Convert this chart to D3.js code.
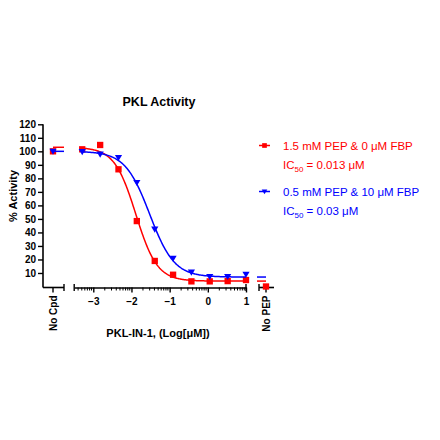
<!DOCTYPE html>
<html>
<head>
<meta charset="utf-8">
<script src="https://cdn.jsdelivr.net/npm/d3@7"></script>
<style>
  body { margin: 0; background: #fff; }
  svg { font-family: 'Liberation Sans', Arial, sans-serif; }
</style>
</head>
<body>
<div id="chart"></div>
<script>
// ── PKL Activity — dose response, two conditions ─────────────

// log10 concentration (µM), 3-fold dilution from 10 µM
const logConc = [-3.29, -2.82, -2.34, -1.86, -1.39, -0.91, -0.43, 0.05, 0.52, 1.0];

const redValues  = [101.5, 104.7, 86.7, 48.4, 18.9, 8.7, 3.8, 3.8, 4.0, 4.8];
const blueValues = [99.7, 97.8, 95.3, 76.8, 42.3, 20.8, 10.5, 7.3, 7.3, 9.0];

// controls
const noCpd = { red: 100, blue: 100 };
const noPep = { red: 0 };

// 4-parameter fits
const redFit  = { top: 103, bottom: 4, logIC50: -1.886, hill: 1.55 };
const blueFit = { top: 100, bottom: 7, logIC50: -1.523, hill: 1.35 };

const yTicks = [10, 20, 30, 40, 50, 60, 70, 80, 90, 100, 110, 120];
const xTicks = [-3, -2, -1, 0, 1];

const series = [
    { name: '1.5 mM PEP & 0 μM FBP', ic50: '0.013 μM', color: '#ff0000', shape: 'square',
      values: redValues, fit: redFit, ctrl: noCpd.red, ctrlEnd: noPep.red },
    { name: '0.5 mM PEP & 10 μM FBP', ic50: '0.03 μM', color: '#0000ff', shape: 'triangle',
      values: blueValues, fit: blueFit, ctrl: noCpd.blue, ctrlEnd: null }
];

const width = 440, height = 440;
const svg = d3.select('#chart').append('svg')
    .attr('width', width)
    .attr('height', height);

const y = d3.scaleLinear().domain([0, 120]).range([286.5, 124.3]);
const x = d3.scaleLinear().domain([-3.5, 1]).range([74.2, 246]);
// side segments for the controls
const segCpd = [43, 64], posCpd = 53;
const segPep = [259, 274], posPep = 266;

const axisY = 287.5;
const g = svg.append('g');

// Title
g.append('text')
    .attr('x', 159).attr('y', 106)
    .attr('text-anchor', 'middle')
    .attr('font-size', '12.5px')
    .attr('font-weight', 'bold')
    .text('PKL Activity');

// Y axis
const yAxis = g.append('g')
    .attr('transform', `translate(${segCpd[0]},0)`)
    .call(d3.axisLeft(y).tickValues(yTicks).tickSize(5).tickPadding(2).tickSizeOuter(0));
yAxis.select('.domain').remove();
yAxis.append('line')
    .attr('x1', 0).attr('x2', 0)
    .attr('y1', y(120)).attr('y2', axisY)
    .attr('stroke', '#000').attr('stroke-width', 1.6);
yAxis.selectAll('.tick line').attr('stroke-width', 1.4);
yAxis.selectAll('.tick text')
    .attr('font-size', '10px').attr('font-weight', 'bold').attr('fill', '#000');

g.append('text')
    .attr('transform', `translate(17,${y(67)}) rotate(-90)`)
    .attr('text-anchor', 'middle')
    .attr('font-size', '11px')
    .attr('font-weight', 'bold')
    .text('% Activity');

// X axis — main segment
const xAxis = g.append('g')
    .attr('transform', `translate(0,${axisY})`)
    .call(d3.axisBottom(x).tickValues(xTicks).tickSize(5).tickPadding(5)
        .tickFormat(d3.format('d')).tickSizeOuter(0));
xAxis.select('.domain').attr('stroke-width', 1.6);
xAxis.selectAll('.tick line').attr('stroke-width', 1.4);
xAxis.selectAll('.tick text')
    .attr('font-size', '10px').attr('font-weight', 'bold').attr('fill', '#000');

// log minor ticks
const minor = [];
for (let dec = -4; dec < 1; dec++) {
    for (let k = 2; k <= 9; k++) {
        const v = dec + Math.log10(k);
        if (v > -3.5 && v < 1) minor.push(v);
    }
}
xAxis.selectAll('.minor')
    .data(minor)
    .join('line')
    .attr('class', 'minor')
    .attr('x1', d => x(d)).attr('x2', d => x(d))
    .attr('y1', 0).attr('y2', 3)
    .attr('stroke', '#000').attr('stroke-width', 1);

// segment end caps
function cap(sel, px) {
    sel.append('line')
        .attr('x1', px).attr('x2', px)
        .attr('y1', -3.5).attr('y2', 3.5)
        .attr('stroke', '#000').attr('stroke-width', 1.4);
}
cap(xAxis, x(-3.5));
cap(xAxis, x(1));

// control segments
const ctrlAxis = g.append('g').attr('transform', `translate(0,${axisY})`);
[segCpd, segPep].forEach(seg => {
    ctrlAxis.append('line')
        .attr('x1', seg[0]).attr('x2', seg[1])
        .attr('y1', 0).attr('y2', 0)
        .attr('stroke', '#000').attr('stroke-width', 1.6);
});
cap(ctrlAxis, segCpd[1]);
cap(ctrlAxis, segPep[0]);
[posCpd, posPep].forEach(px => {
    ctrlAxis.append('line')
        .attr('x1', px).attr('x2', px)
        .attr('y1', 0).attr('y2', 5)
        .attr('stroke', '#000').attr('stroke-width', 1.4);
});
[['No Cpd', posCpd], ['No PEP', posPep]].forEach(([label, px]) => {
    ctrlAxis.append('text')
        .attr('transform', `translate(${px + 3.5},8) rotate(-90)`)
        .attr('text-anchor', 'end')
        .attr('font-size', '10px')
        .attr('font-weight', 'bold')
        .text(label);
});

g.append('text')
    .attr('x', 158).attr('y', 337)
    .attr('text-anchor', 'middle')
    .attr('font-size', '11px')
    .attr('font-weight', 'bold')
    .text('PKL-IN-1, (Log[μM])');

// Curves
function fitValue(f, lx) {
    return f.bottom + (f.top - f.bottom) / (1 + Math.pow(10, (lx - f.logIC50) * f.hill));
}
const line = d3.line().x(d => x(d[0])).y(d => y(d[1]));

const symSquare = d3.symbol().type(d3.symbolSquare).size(40);
function triangleDown(s) {
    return `M${-s},${-s * 0.75}L${s},${-s * 0.75}L0,${s * 0.95}Z`;
}

series.forEach(s => {
    const grid = d3.range(-3.3, 1.0001, 0.02);
    g.append('path')
        .datum(grid.map(lx => [lx, fitValue(s.fit, lx)]))
        .attr('fill', 'none')
        .attr('stroke', s.color)
        .attr('stroke-width', 1.5)
        .attr('d', line);

    // plateau stubs in the control segments
    g.append('line')
        .attr('x1', posCpd).attr('x2', segCpd[1])
        .attr('y1', y(s.fit.top)).attr('y2', y(s.fit.top))
        .attr('stroke', s.color).attr('stroke-width', 1.5);
    g.append('line')
        .attr('x1', segPep[0] - 2).attr('x2', posPep)
        .attr('y1', y(s.fit.bottom)).attr('y2', y(s.fit.bottom))
        .attr('stroke', s.color).attr('stroke-width', 1.5);

    const pts = logConc.map((lx, i) => ({ px: x(lx), py: y(s.values[i]) }));
    pts.push({ px: posCpd, py: y(s.ctrl) });
    if (s.ctrlEnd !== null) pts.push({ px: posPep, py: y(s.ctrlEnd) });

    g.append('g').selectAll('path')
        .data(pts)
        .join('path')
        .attr('transform', d => `translate(${d.px},${d.py})`)
        .attr('d', s.shape === 'square' ? symSquare() : triangleDown(3.6))
        .attr('fill', s.color);
});

// Legend
const legendRows = [145.5, 191.5];
series.forEach((s, i) => {
    const ly = legendRows[i];
    const lg = g.append('g').attr('fill', s.color);
    lg.append('line')
        .attr('x1', 259).attr('x2', 270)
        .attr('y1', ly).attr('y2', ly)
        .attr('stroke', s.color).attr('stroke-width', 1.5);
    lg.append('path')
        .attr('transform', `translate(264.5,${ly})`)
        .attr('d', s.shape === 'square' ? d3.symbol().type(d3.symbolSquare).size(22)() : triangleDown(2.8));
    lg.append('text')
        .attr('x', 283).attr('y', ly + 4)
        .attr('font-size', '11.5px')
        .text(s.name);
    const t = lg.append('text')
        .attr('x', 283).attr('y', ly + 23)
        .attr('font-size', '11.5px');
    t.append('tspan').text('IC');
    t.append('tspan').attr('font-size', '8px').attr('dy', 3).text('50');
    t.append('tspan').attr('dy', -3).text(` = ${s.ic50}`);
});
</script>
</body>
</html>
